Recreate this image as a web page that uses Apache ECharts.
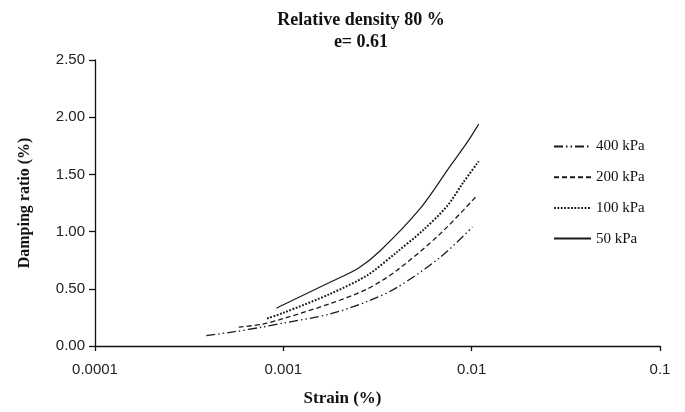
<!DOCTYPE html>
<html>
<head>
<meta charset="utf-8">
<script src="https://cdn.jsdelivr.net/npm/echarts@6/dist/echarts.min.js"></script>
<style>
  html, body { margin: 0; padding: 0; background: #fff; }
  #chart { width: 685px; height: 412px; }
</style>
</head>
<body>
<div id="chart"></div>
<script>
// Damping ratio vs. shear strain at four confining pressures
const seriesNames = ['400 kPa', '200 kPa', '100 kPa', '50 kPa'];

const strain400 = [0.00039, 0.00055, 0.00077, 0.001, 0.00177, 0.0028, 0.004, 0.0068, 0.0101];
const damp400   = [0.09,    0.125,   0.165,   0.20,  0.28,    0.39,   0.51,  0.775,  1.04];

const strain200 = [0.00058, 0.00077, 0.001, 0.00177, 0.0028, 0.004, 0.0068, 0.0106];
const damp200   = [0.165,   0.19,    0.24,  0.37,    0.50,   0.66,  0.98,   1.31];

const strain100 = [0.00082, 0.001, 0.00177, 0.0028, 0.004, 0.0055, 0.00738, 0.00903, 0.0109];
const damp100   = [0.24,    0.29,  0.455,   0.62,   0.82,  1.01,   1.22,    1.43,    1.615];

const strain50  = [0.00092, 0.001, 0.00177, 0.0025, 0.00326, 0.00532, 0.00767, 0.00942, 0.0109];
const damp50    = [0.33,    0.36,  0.557,   0.68,   0.83,    1.20,    1.57,    1.775,   1.94];

const xTickValues = [0.0001, 0.001, 0.01, 0.1];
const xTickLabels = ['0.0001', '0.001', '0.01', '0.1'];

const pairs = (xs, ys) => xs.map((x, i) => [x, ys[i]]);

const lineColor = '#1a1a1a';
const styles = [
  { type: [9, 3, 1.5, 3, 1.5, 3], width: 1.3 },
  { type: [5, 3], width: 1.3 },
  { type: [1.8, 1.6], width: 2 },
  { type: 'solid', width: 1.2 }
];
const dataSets = [
  pairs(strain400, damp400),
  pairs(strain200, damp200),
  pairs(strain100, damp100),
  pairs(strain50, damp50)
];

const chart = echarts.init(document.getElementById('chart'), null, { renderer: 'canvas' });

chart.setOption({
  animation: false,
  backgroundColor: '#fff',
  title: {
    text: 'Relative density 80 %\ne= 0.61',
    left: 356,
    top: 4,
    textAlign: 'center',
    textStyle: {
      fontFamily: 'Liberation Serif',
      fontWeight: 'bold',
      fontSize: 18,
      color: '#111',
      lineHeight: 22
    }
  },
  legend: {
    orient: 'vertical',
    left: 548,
    top: 134,
    itemWidth: 37,
    itemHeight: 14,
    itemGap: 15.7,
    data: seriesNames,
    // only the line sample is shown in each legend entry
    itemStyle: { opacity: 0 },
    textStyle: {
      fontFamily: 'Liberation Serif',
      fontSize: 15,
      color: '#111',
      padding: [0, 0, 0, 0]
    }
  },
  grid: { left: 95, right: 25, top: 60, bottom: 65 },
  xAxis: {
    type: 'log',
    logBase: 10,
    min: 0.0001,
    max: 0.1,
    name: 'Strain (%)',
    nameLocation: 'middle',
    nameGap: 44,
    nameTextStyle: {
      fontFamily: 'Liberation Serif',
      fontWeight: 'bold',
      fontSize: 17,
      color: '#111',
      padding: [0, 70, 0, 0]
    },
    axisLine: { lineStyle: { color: '#111', width: 1.3 } },
    axisTick: { inside: false, length: 5, lineStyle: { color: '#111', width: 1.3 } },
    minorTick: { show: false },
    splitLine: { show: false },
    axisLabel: {
      margin: 16,
      fontFamily: 'Liberation Sans',
      fontSize: 15,
      color: '#222',
      formatter: function (v) {
        for (let i = 0; i < xTickValues.length; i++) {
          if (Math.abs(Math.log10(v) - Math.log10(xTickValues[i])) < 1e-6) return xTickLabels[i];
        }
        return '';
      }
    }
  },
  yAxis: {
    type: 'value',
    min: 0,
    max: 2.5,
    interval: 0.5,
    name: 'Damping ratio (%)',
    nameLocation: 'middle',
    nameGap: 62,
    nameRotate: 90,
    nameTextStyle: {
      fontFamily: 'Liberation Serif',
      fontWeight: 'bold',
      fontSize: 16,
      color: '#111'
    },
    axisLine: { show: true, lineStyle: { color: '#111', width: 1.3 } },
    axisTick: { show: true, inside: false, length: 6, lineStyle: { color: '#111', width: 1.3 } },
    splitLine: { show: false },
    axisLabel: {
      margin: 10,
      fontFamily: 'Liberation Sans',
      fontSize: 15,
      color: '#222',
      formatter: v => v.toFixed(2)
    }
  },
  series: seriesNames.map((name, i) => ({
    name: name,
    type: 'line',
    data: dataSets[i],
    smooth: 0.3,
    symbol: 'none',
    itemStyle: { color: lineColor },
    lineStyle: { color: lineColor, width: styles[i].width, type: styles[i].type }
  }))
});
</script>
</body>
</html>
